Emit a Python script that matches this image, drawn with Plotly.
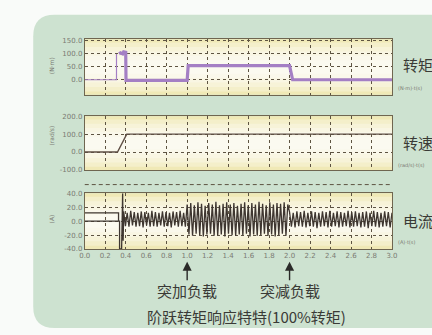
import numpy as np
import plotly.graph_objects as go

W, H = 432, 335

# ---------------- data ----------------
x_ticks = [0.0, 0.2, 0.4, 0.6, 0.8, 1.0, 1.2, 1.4, 1.6, 1.8, 2.0, 2.2, 2.4, 2.6, 2.8, 3.0]

torque_ticks = [0, 50, 100, 150]
speed_ticks = [-100, 0, 100, 200]
current_ticks = [-40, -20, 0, 20, 40]

torque_thin_t = [0.0, 0.31, 0.31]
torque_thin_v = [0, 0, 100]
torque_t = [0.335, 0.35, 0.37, 0.38, 0.40, 0.403, 1.0, 1.01, 2.0, 2.03, 3.0]
torque_v = [100, 104, 100, 108, 106, -2, -2, 55, 55, 0, 0]

speed_t = [0.0, 0.32, 0.41, 3.0]
speed_v = [0, 0, 100, 100]

cur_lead_t = [0.0, 0.33, 0.33, None, 0.0, 0.34, 0.34, 0.36, 0.37, 0.375]
cur_lead_v = [12, 12, 0, None, 0, 0, -40, -40, 40, -28]

cur_seg_a = [14, -7, 12, -8, 15, -6, 13, -8, 12, -7, 14, -9, 13, -6, 12, -8, 15, -7,
             13, -8, 12, -6, 14, -8, 13, -7, 12, -9, 14, -6, 13, -8, 15, -7, 12, -8]
cur_seg_b = [24, -19, 26, -21, 23, -18, 27, -20, 25, -22, 22, -19, 26, -18, 24, -21, 28, -20,
             23, -19, 25, -22, 27, -18, 24, -20, 26, -21, 22, -19, 25, -20, 27, -18, 23, -22,
             26, -19, 24, -21, 28, -20, 25, -18, 23, -21, 27, -19, 24, -22, 26, -20, 25, -18,
             27, -21, 24]
cur_seg_c = [13, -8, 12, -9, 14, -7, 13, -8, 15, -9, 12, -7, 14, -8, 13, -10, 12, -8,
             14, -7, 13, -9, 15, -8, 12, -7, 14, -9, 13, -8, 12, -7, 15, -9, 13, -8,
             14, -7, 12, -9, 13, -8, 14, -10, 12, -7, 15, -8, 13, -9, 12, -8, 14, -7,
             13, -9, 12]
cur_seg_bounds = [(0.38, 1.0), (1.0, 2.0), (2.0, 3.0)]

# sampling instants of each oscillating segment
seg_t = []
seg_v = []
for (t0, t1), vals, last in zip(cur_seg_bounds, [cur_seg_a, cur_seg_b, cur_seg_c], [False, False, True]):
    seg_t += list(np.linspace(t0, t1, len(vals), endpoint=last))
    seg_v += vals
current_t = cur_lead_t + seg_t
current_v = cur_lead_v + seg_v

# ---------------- layout helpers ----------------
def px_x(p):
    return p / W

def px_y(p):
    return 1 - p / H

XD = [px_x(81), px_x(397)]
YD_TOP = [px_y(93), px_y(36)]
YD_MID = [px_y(170), px_y(115)]
YD_BOT = [px_y(251), px_y(194)]

TRACE_DARK = "#3e3630"
PURPLE = "#a47fc4"
GRID = "#5e5442"
FRAME = "#6f6650"
TICKFONT = dict(family="DejaVu Sans", size=7, color="#7a7a72")
CJK = "Noto Sans CJK SC"

fig = go.Figure()

fig.add_trace(go.Scatter(x=torque_thin_t, y=torque_thin_v, mode="lines",
                         line=dict(color=PURPLE, width=1.2), xaxis="x", yaxis="y", showlegend=False))
fig.add_trace(go.Scatter(x=torque_t, y=torque_v, mode="lines",
                         line=dict(color=PURPLE, width=3.2), xaxis="x", yaxis="y", showlegend=False))
fig.add_trace(go.Scatter(x=speed_t, y=speed_v, mode="lines",
                         line=dict(color="#5e4e44", width=1.4), xaxis="x2", yaxis="y2", showlegend=False))
fig.add_trace(go.Scatter(x=current_t, y=current_v, mode="lines",
                         line=dict(color=TRACE_DARK, width=1.3), xaxis="x3", yaxis="y3", showlegend=False))

def xaxis(anchor, labels):
    return dict(domain=XD, anchor=anchor, range=[0, 3], tickvals=x_ticks,
                ticktext=[f"{v:.1f}" for v in x_ticks], showticklabels=labels,
                showgrid=True, gridcolor=GRID, griddash="3px,3px", gridwidth=1,
                zeroline=False, showline=True, mirror=True, linecolor=FRAME, linewidth=1,
                ticks="", tickfont=TICKFONT, fixedrange=True)

def yaxis(anchor, dom, rng, vals):
    return dict(domain=dom, anchor=anchor, range=rng, tickvals=vals,
                ticktext=[f"{v:.1f}" for v in vals],
                showgrid=True, gridcolor=GRID, griddash="3px,3px", gridwidth=1,
                zeroline=False, showline=True, mirror=True, linecolor=FRAME, linewidth=1,
                ticks="", tickfont=TICKFONT, fixedrange=True)

shapes = []
# green rounded panel
L, T, B, R = 28, 11, 332, 450
r = 22
path = (f"M {px_x(L)},{px_y(T + r)} "
        f"Q {px_x(L)},{px_y(T)} {px_x(L + r)},{px_y(T)} "
        f"L {px_x(R)},{px_y(T)} L {px_x(R)},{px_y(B)} "
        f"L {px_x(L + r)},{px_y(B)} "
        f"Q {px_x(L)},{px_y(B)} {px_x(L)},{px_y(B - r)} Z")
shapes.append(dict(type="path", path=path, xref="paper", yref="paper",
                   fillcolor="#cde2d0", line=dict(width=0), layer="below"))

# plot backgrounds: cream with a white band in the middle
for ax in ["", "2", "3"]:
    shapes.append(dict(type="rect", xref=f"x{ax} domain", yref=f"y{ax} domain",
                       x0=0, x1=1, y0=0, y1=1, fillcolor="#f0e9b6",
                       line=dict(width=0), layer="below"))
    for h in [0.44, 0.36, 0.28, 0.2, 0.12]:
        shapes.append(dict(type="rect", xref=f"x{ax} domain", yref=f"y{ax} domain",
                           x0=0, x1=1, y0=0.5 - h, y1=0.5 + h, fillcolor="white",
                           opacity=0.28, line=dict(width=0), layer="below"))

# dashed separator line above the current panel
shapes.append(dict(type="line", xref="paper", yref="paper", x0=XD[0], x1=XD[1],
                   y0=px_y(185), y1=px_y(185), line=dict(color=GRID, width=1, dash="4px,3px")))

annotations = []
# axis unit labels
for txt, yy in [("(N·m)", 63), ("(rad/s)", 135), ("(A)", 220)]:
    annotations.append(dict(text=txt, x=px_x(47), y=px_y(yy), xref="paper", yref="paper",
                            xanchor="center", yanchor="middle",
                            showarrow=False, textangle=-90,
                            font=dict(family="DejaVu Sans", size=6, color="#7a7a72")))
# right side labels (cut by the right edge as in the original)
for big, small, yb, ys in [("转矩", "(N·m)·t(s)", 62, 86), ("转速", "(rad/s)·t(s)", 142, 165),
                           ("电流", "(A)·t(s)", 222, 244)]:
    annotations.append(dict(text=big, x=px_x(406), y=px_y(yb), xref="paper", yref="paper",
                            xanchor="left", yanchor="middle", showarrow=False,
                            font=dict(family=CJK, size=15, color="#3a3a36")))
    annotations.append(dict(text=small, x=px_x(401), y=px_y(ys), xref="paper", yref="paper",
                            xanchor="left", yanchor="middle", showarrow=False,
                            font=dict(family="DejaVu Sans", size=5, color="#7a7a72")))

# arrows to load events
for tx, lbl in [(1.0, "突加负载"), (2.0, "突减负载")]:
    annotations.append(dict(x=tx, y=px_y(264), xref="x3", yref="paper", ax=0, ay=20,
                            text="", showarrow=True, arrowhead=2, arrowsize=1.3,
                            arrowwidth=1.4, arrowcolor="#2a2a28"))
    annotations.append(dict(x=tx, y=px_y(293), xref="x3", yref="paper",
                            xanchor="center", yanchor="middle",
                            text=lbl, showarrow=False,
                            font=dict(family=CJK, size=15, color="#3a3a36")))

annotations.append(dict(text="阶跃转矩响应特特(100%转矩)", x=px_x(247), y=px_y(320),
                        xref="paper", yref="paper", xanchor="center", yanchor="middle",
                        showarrow=False,
                        font=dict(family=CJK, size=15, color="#3a3a36")))

fig.update_layout(
    width=W, height=H, autosize=False,
    margin=dict(l=0, r=0, t=0, b=0),
    paper_bgcolor="#f9fbf9", plot_bgcolor="rgba(0,0,0,0)",
    xaxis=xaxis("y", False), yaxis=yaxis("x", YD_TOP, [-58, 157], torque_ticks),
    xaxis2=xaxis("y2", False), yaxis2=yaxis("x2", YD_MID, [-100, 200], speed_ticks),
    xaxis3=xaxis("y3", True), yaxis3=yaxis("x3", YD_BOT, [-40, 40], current_ticks),
    shapes=shapes, annotations=annotations, showlegend=False,
)

fig.write_html("out.html", config={"displayModeBar": False},
               post_script="document.body.style.margin='0';document.body.style.overflow='hidden';")
